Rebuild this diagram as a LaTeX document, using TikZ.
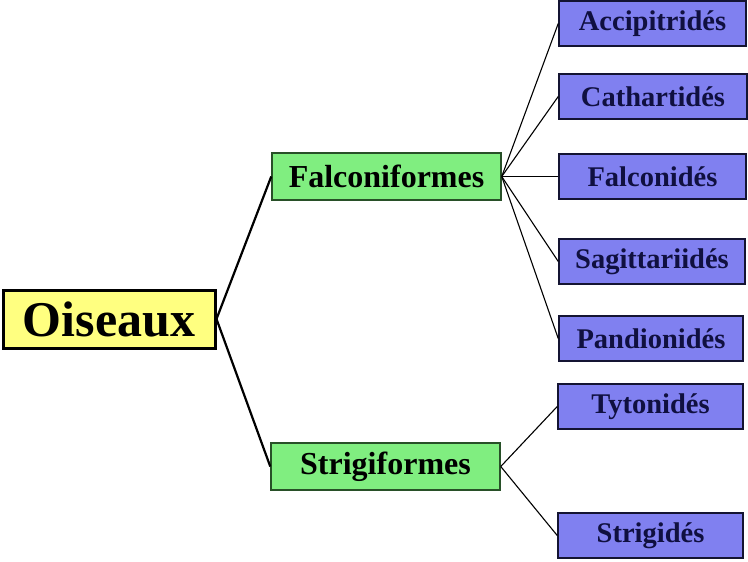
\documentclass[tikz,border=0pt]{standalone}
\usepackage{fontspec}
\setmainfont{Liberation Serif}
\definecolor{rootfill}{RGB}{255,255,128}
\definecolor{ordfill}{RGB}{128,238,128}
\definecolor{ordline}{RGB}{40,80,40}
\definecolor{famfill}{RGB}{128,128,240}
\definecolor{famline}{RGB}{20,20,50}
\definecolor{famtext}{RGB}{16,16,64}
\begin{document}
\begin{tikzpicture}[x=1pt,y=-1pt,
  rootbox/.style={draw=black,line width=3pt,fill=rootfill,inner sep=0pt,
    minimum width=212pt,minimum height=58pt,font=\fontsize{50}{50}\selectfont\bfseries},
  ordbox/.style={draw=ordline,line width=1.5pt,fill=ordfill,inner sep=0pt,
    minimum width=229pt,minimum height=47pt,font=\fontsize{32}{32}\selectfont\bfseries},
  fambox/.style={draw=famline,line width=1.5pt,fill=famfill,inner sep=0pt,text=famtext,
    minimum width=186pt,minimum height=45pt,font=\fontsize{28.5}{28.5}\selectfont\bfseries},
  thick link/.style={line width=2.2pt,black},
  thin link/.style={line width=1.1pt,black}]
\useasboundingbox (0,0) rectangle (748,562);
\fill[white] (0,0) rectangle (748,562);
\node[rootbox] (ois) at (109,319) {Oiseaux};
\node[ordbox] (fal) at (386.5,176.5) {Falconiformes};
\node[ordbox] (str) at (385.5,466.5) {Strigiformes};
\node[fambox,minimum width=187pt] (acc) at (652.5,23.5) {Accipitridés};
\node[fambox,minimum width=188pt] (cat) at (653,96.5) {Cathartidés};
\node[fambox,minimum width=187pt] (fdd) at (652.5,176.5) {Falconidés};
\node[fambox,minimum width=186pt] (sag) at (652,261.5) {Sagittariidés};
\node[fambox,minimum width=184pt] (pan) at (651,338.5) {Pandionidés};
\node[fambox,minimum width=185pt] (tyt) at (650.5,406.5) {Tytonidés};
\node[fambox,minimum width=185pt] (sgd) at (650.5,535.5) {Strigidés};
\draw[thick link] (ois.east) -- (fal.west);
\draw[thick link] (ois.east) -- (str.west);
\foreach \f in {acc,cat,sag,pan} \draw[thin link] (fal.east) -- (\f.west);
\draw[thin link,line width=1.7pt] (fal.east) -- (fdd.west);
\draw[thin link] (str.east) -- (tyt.west);
\draw[thin link] (str.east) -- (sgd.west);
\end{tikzpicture}
\end{document}
